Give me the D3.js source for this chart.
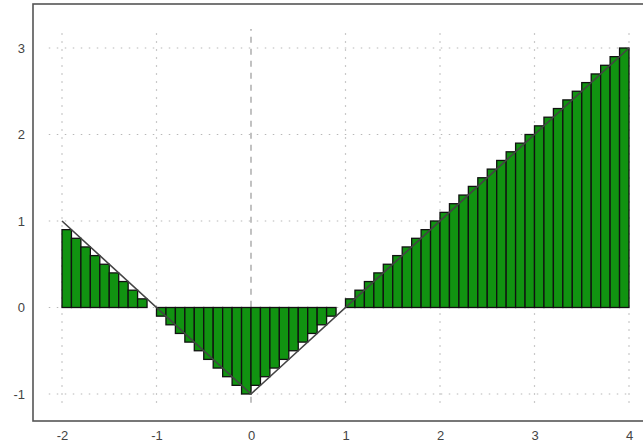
<!DOCTYPE html>
<html><head><meta charset="utf-8">
<script src="https://cdn.jsdelivr.net/npm/d3@7"></script>
<style>body{margin:0;background:#fff}svg{display:block}</style>
</head><body>
<svg id="c" width="643" height="448"></svg>
<script>
// Bar intervals: left edges (width 0.1), heights
const barLefts = [-2.0,-1.9,-1.8,-1.7,-1.6,-1.5,-1.4,-1.3,-1.2,-1.1,
  -1.0,-0.9,-0.8,-0.7,-0.6,-0.5,-0.4,-0.3,-0.2,-0.1,
  0.0,0.1,0.2,0.3,0.4,0.5,0.6,0.7,0.8,0.9,
  1.0,1.1,1.2,1.3,1.4,1.5,1.6,1.7,1.8,1.9,
  2.0,2.1,2.2,2.3,2.4,2.5,2.6,2.7,2.8,2.9,
  3.0,3.1,3.2,3.3,3.4,3.5,3.6,3.7,3.8,3.9];
const barValues = [0.9,0.8,0.7,0.6,0.5,0.4,0.3,0.2,0.1,0.0,
  -0.1,-0.2,-0.3,-0.4,-0.5,-0.6,-0.7,-0.8,-0.9,-1.0,
  -0.9,-0.8,-0.7,-0.6,-0.5,-0.4,-0.3,-0.2,-0.1,0.0,
  0.1,0.2,0.3,0.4,0.5,0.6,0.7,0.8,0.9,1.0,
  1.1,1.2,1.3,1.4,1.5,1.6,1.7,1.8,1.9,2.0,
  2.1,2.2,2.3,2.4,2.5,2.6,2.7,2.8,2.9,3.0];
const barWidth = 0.1;
// Function curve vertices
const lineX = [-2, 0, 4];
const lineY = [1, -1, 3];
const xTicks = [-2,-1,0,1,2,3,4];
const yTicks = [-1,0,1,2,3];

const svg = d3.select("#c");
const x = d3.scaleLinear().domain([-2,4]).range([62,629]);
const y = d3.scaleLinear().domain([-1,3]).range([394,48]);

// grid
const g = svg.append("g");
const gx0 = -2.14, gx1 = 4.01, gy0 = -1.1, gy1 = 3.22;
xTicks.forEach(t=>{
  g.append("line").attr("x1",x(t)).attr("x2",x(t)).attr("y1",y(gy0)).attr("y2",y(gy1))
   .attr("stroke", t===0 ? "#999" : "#b8b8b8")
   .attr("stroke-width",1.2)
   .attr("stroke-dasharray", t===0 ? "6,6" : "1.5,6.5");
});
yTicks.forEach(t=>{
  g.append("line").attr("x1",x(gx0)).attr("x2",x(gx1)).attr("y1",y(t)).attr("y2",y(t))
   .attr("stroke","#b8b8b8").attr("stroke-width",1.2)
   .attr("stroke-dasharray","1.5,6.5");
});

// bars
svg.append("g").selectAll("rect").data(barLefts.map((l,i)=>({l,v:barValues[i]})))
 .join("rect")
 .attr("x",d=>x(d.l))
 .attr("width",d=>x(d.l+barWidth)-x(d.l))
 .attr("y",d=>Math.min(y(d.v),y(0)))
 .attr("height",d=>Math.abs(y(d.v)-y(0)))
 .attr("fill","#119311")
 .attr("stroke","#111")
 .attr("stroke-width",1.3);

// function line
svg.append("path")
 .datum(lineX.map((v,i)=>[v,lineY[i]]))
 .attr("d",d3.line().x(d=>x(d[0])).y(d=>y(d[1])))
 .attr("fill","none").attr("stroke","#444").attr("stroke-width",1.6);

// frame
svg.append("rect").attr("x",33).attr("y",4).attr("width",640).attr("height",417)
 .attr("fill","none").attr("stroke","#555").attr("stroke-width",1.6);

// axes labels via d3 axes
const fmt = d => String(d);
const xAxis = d3.axisBottom(x).tickValues(xTicks).tickSize(0).tickPadding(0).tickFormat(fmt);
const ax = svg.append("g").attr("transform","translate(0,432)").call(xAxis);
ax.select(".domain").remove();
ax.selectAll("text").attr("font-family","Liberation Sans, Arial, sans-serif").attr("font-size",13).attr("fill","#444").attr("dy","0.6em");

const yAxis = d3.axisLeft(y).tickValues(yTicks).tickSize(0).tickPadding(0).tickFormat(fmt);
const ay = svg.append("g").attr("transform","translate(25,0)").call(yAxis);
ay.select(".domain").remove();
ay.selectAll("text").attr("font-family","Liberation Sans, Arial, sans-serif").attr("font-size",13).attr("fill","#444");
</script>
</body></html>
